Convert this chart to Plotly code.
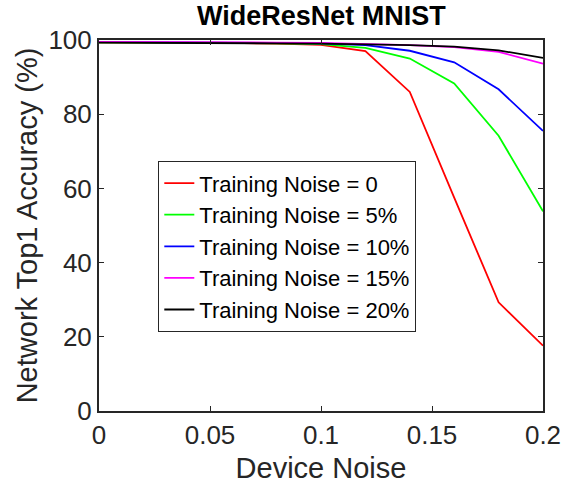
import plotly.graph_objects as go

# Device noise levels (x axis)
device_noise = [0, 0.02, 0.04, 0.06, 0.08, 0.10, 0.12, 0.14, 0.16, 0.18, 0.20]

# Top-1 accuracy (%) for each training-noise level
acc_noise_0 = [99.4, 99.4, 99.3, 99.2, 99.0, 98.7, 97.0, 86.0, 57.5, 29.3, 17.6]
acc_noise_5 = [99.4, 99.4, 99.3, 99.2, 99.1, 98.9, 97.9, 95.0, 88.3, 74.2, 53.8]
acc_noise_10 = [99.5, 99.4, 99.4, 99.3, 99.2, 99.1, 98.6, 97.1, 94.0, 86.7, 75.5]
acc_noise_15 = [99.5, 99.5, 99.4, 99.4, 99.3, 99.2, 99.0, 98.6, 98.1, 96.8, 93.6]
acc_noise_20 = [99.3, 99.3, 99.2, 99.2, 99.1, 99.0, 98.9, 98.6, 98.2, 97.2, 95.2]

series_names = [
    "Training Noise = 0",
    "Training Noise = 5%",
    "Training Noise = 10%",
    "Training Noise = 15%",
    "Training Noise = 20%",
]
series_values = [acc_noise_0, acc_noise_5, acc_noise_10, acc_noise_15, acc_noise_20]
series_colors = ["#ff0000", "#00ff00", "#0000ff", "#ff00ff", "#000000"]

x_ticks = [0, 0.05, 0.1, 0.15, 0.2]
x_tick_labels = ["0", "0.05", "0.1", "0.15", "0.2"]
y_ticks = [0, 20, 40, 60, 80, 100]

axis_color = "#262626"
font_family = "Liberation Sans, Arial, sans-serif"

fig = go.Figure()
for name, vals, color in zip(series_names, series_values, series_colors):
    fig.add_trace(go.Scatter(
        x=device_noise, y=vals, mode="lines", name=name,
        line=dict(color=color, width=1.8),
    ))

axis_common = dict(
    showline=True, linecolor=axis_color, linewidth=2, mirror="ticks",
    ticks="inside", ticklen=5, tickwidth=1.3, tickcolor=axis_color,
    showgrid=False, zeroline=False, automargin=False,
    tickfont=dict(size=26, color=axis_color, family=font_family),
)

fig.update_layout(
    width=564, height=493,
    margin=dict(l=99, r=21, t=40, b=82),
    paper_bgcolor="white", plot_bgcolor="white",
    font=dict(family=font_family, color=axis_color),
    xaxis=dict(
        range=[0, 0.2], tickvals=x_ticks, ticktext=x_tick_labels,
        title=dict(text="Device Noise", font=dict(size=29, color=axis_color), standoff=8),
        **axis_common,
    ),
    yaxis=dict(
        range=[0, 100], tickvals=y_ticks,
        title=dict(text="Network Top1 Accuracy (%)", font=dict(size=29, color=axis_color), standoff=2),
        **axis_common,
    ),
    legend=dict(
        x=(158 - 99) / 444, y=(411 - 161) / 371, xanchor="left", yanchor="top",
        bgcolor="white", bordercolor=axis_color, borderwidth=1.3,
        font=dict(size=22, color="black", family=font_family),
        itemwidth=30, tracegroupgap=0,
    ),
    showlegend=True,
)

# Chart title, centred above the axes box
fig.add_annotation(
    text="<b>WideResNet MNIST</b>",
    xref="paper", yref="paper",
    x=0.5, y=1 + 24 / 371, xanchor="center", yanchor="middle",
    showarrow=False,
    font=dict(size=27, color="black", family=font_family),
)

fig.write_html("out.html")
